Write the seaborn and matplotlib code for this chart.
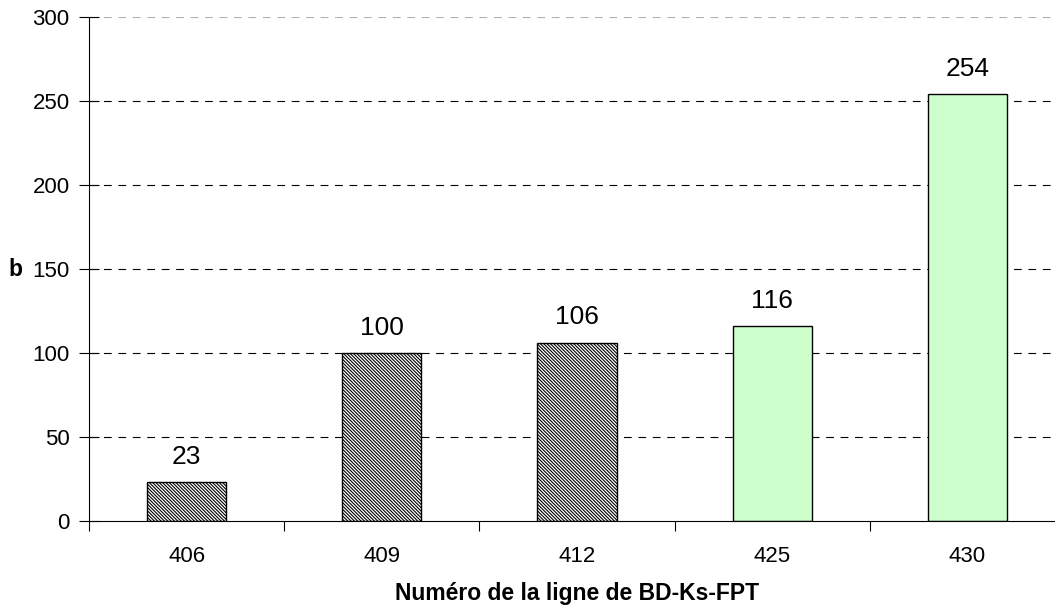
import pandas as pd
import matplotlib
matplotlib.use("Agg")
import matplotlib.pyplot as plt
import seaborn as sns

# Values
lines = ["406", "409", "412", "425", "430"]
b_values = [23, 100, 106, 116, 254]
hatched = [True, True, True, False, False]

df = pd.DataFrame({"ligne": lines, "b": b_values})

sns.set_style("white")
plt.rcParams['font.family'] = ['Liberation Sans', 'DejaVu Sans']
plt.rcParams['hatch.linewidth'] = 0.8
plt.rcParams['text.color'] = 'black'
plt.rcParams['axes.labelcolor'] = 'black'
plt.rcParams['xtick.color'] = 'black'
plt.rcParams['ytick.color'] = 'black'
plt.rcParams['axes.edgecolor'] = 'black'

fig = plt.figure(figsize=(10.55, 6.09), dpi=100)
# the plot area runs a little past the right edge of the picture, as in the original
ax = fig.add_axes([0.0844, 0.1445, 0.925, 0.8275])

# grid lines first so bars sit on top
dash = (0, (7, 6))
for y in [50, 100, 150, 200, 250]:
    ax.axhline(y, color="black", linestyle=dash, linewidth=0.8, zorder=0)
ax.axhline(300, color="#b0b0b0", linestyle=dash, linewidth=0.8, zorder=0)

sns.barplot(data=df, x="ligne", y="b", width=0.405, ax=ax,
            edgecolor="black", linewidth=1.0, zorder=2)

for patch, h in zip(ax.patches, hatched):
    if h:
        patch.set_facecolor("white")
        patch.set_hatch("\\" * 10)
    else:
        patch.set_facecolor("#ccffcc")

for i, v in enumerate(b_values):
    ax.text(i, v + 8, str(v), ha="center", va="bottom", fontsize=19)

ax.set_xlim(-0.5, len(lines) - 0.5)
ax.set_ylim(0, 300)
ax.set_yticks(range(0, 301, 50))
ax.tick_params(axis="y", left=True, direction="inout", length=14, width=0.8,
               labelsize=16, pad=7)

# x ticks sit between the categories
ax.set_xticks([i - 0.5 for i in range(len(lines) + 1)], minor=True)
ax.tick_params(axis="x", which="minor", bottom=True, direction="out", length=7, width=0.8)
ax.tick_params(axis="x", which="major", bottom=True, length=0, labelsize=16, pad=18)

for s in ["top", "right"]:
    ax.spines[s].set_visible(False)
ax.spines["left"].set_linewidth(0.8)
ax.spines["bottom"].set_linewidth(0.8)

ax.set_xlabel("Numéro de la ligne de BD-Ks-FPT", fontsize=16.5, fontweight="bold")
ax.xaxis.set_label_coords(0.5, -0.121)
ax.set_ylabel("b", fontsize=16.5, fontweight="bold", rotation=0, ha="center", va="center")
ax.yaxis.set_label_coords(-0.075, 0.5)

fig.savefig("out.png", dpi=100)
